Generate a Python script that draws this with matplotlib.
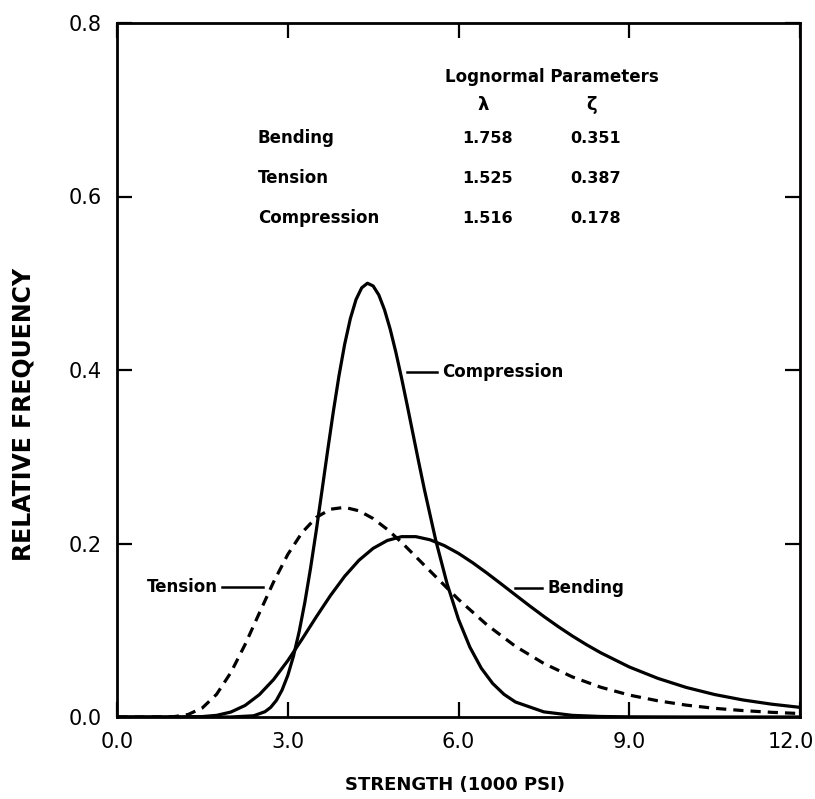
import matplotlib
matplotlib.use("Agg")
import matplotlib.pyplot as plt
from matplotlib.transforms import ScaledTranslation

plt.rcParams['font.family'] = ['DejaVu Sans']

# ---- data ----
bend_x = [0, 1.0, 1.5, 1.75, 2.0, 2.25, 2.5, 2.75, 3.0, 3.25, 3.5, 3.75, 4.0,
          4.25, 4.5, 4.75, 5.0, 5.25, 5.5, 5.75, 6.0, 6.25, 6.5, 6.75, 7.0,
          7.25, 7.5, 7.75, 8.0, 8.25, 8.5, 9.0, 9.5, 10.0, 10.5, 11.0, 11.5, 12.0]
bend_y = [0, 0.0000, 0.0005, 0.0019, 0.0057, 0.0133, 0.0257, 0.0431, 0.0649,
          0.0896, 0.1153, 0.1400, 0.1622, 0.1806, 0.1944, 0.2035, 0.2079,
          0.2079, 0.2043, 0.1976, 0.1886, 0.1778, 0.1659, 0.1534, 0.1407,
          0.1281, 0.1159, 0.1043, 0.0934, 0.0833, 0.0740, 0.0577, 0.0446,
          0.0341, 0.0259, 0.0196, 0.0148, 0.0111]

ten_x = [0, 0.5, 1.0, 1.25, 1.5, 1.75, 2.0, 2.25, 2.5, 2.75, 3.0, 3.25, 3.5,
         3.75, 4.0, 4.25, 4.5, 4.75, 5.0, 5.5, 6.0, 6.5, 7.0, 7.5, 8.0, 8.5,
         9.0, 9.5, 10.0, 10.5, 11.0, 11.5, 12.0]
ten_y = [0, 0, 0.0004, 0.0029, 0.0105, 0.0262, 0.0512, 0.0835, 0.1197, 0.1555,
         0.1873, 0.2125, 0.2300, 0.2395, 0.2417, 0.2377, 0.2288, 0.2162, 0.2013,
         0.1683, 0.1355, 0.1062, 0.0815, 0.0617, 0.0462, 0.0343, 0.0253, 0.0187,
         0.0137, 0.0100, 0.0074, 0.0054, 0.0040]

comp_x = [0, 2.0, 2.4, 2.6, 2.7, 2.8, 2.9, 3.0, 3.1, 3.2, 3.3, 3.4, 3.5, 3.6,
          3.7, 3.8, 3.9, 4.0, 4.1, 4.2, 4.3, 4.4, 4.5, 4.6, 4.7, 4.8, 4.9, 5.0,
          5.1, 5.2, 5.3, 5.4, 5.6, 5.8, 6.0, 6.2, 6.4, 6.6, 6.8, 7.0, 7.5, 8.0,
          8.5, 9.0, 10.0, 12.0]
comp_y = [0, 0.0000, 0.0014, 0.0061, 0.0111, 0.0191, 0.0311, 0.0478, 0.0701,
          0.0982, 0.1321, 0.1713, 0.2145, 0.2603, 0.3067, 0.3517, 0.3933,
          0.4297, 0.4593, 0.4813, 0.4948, 0.5000, 0.4969, 0.4865, 0.4694,
          0.4470, 0.4203, 0.3906, 0.3590, 0.3265, 0.2941, 0.2625, 0.2038,
          0.1535, 0.1125, 0.0805, 0.0563, 0.0387, 0.0261, 0.0173, 0.0059,
          0.0019, 0.0006, 0.0002, 0, 0]

x_ticks = [0.0, 3.0, 6.0, 9.0, 12.0]
y_ticks = [0.0, 0.2, 0.4, 0.6, 0.8]

table_rows = ["Bending", "Tension", "Compression"]
table_lambda = ["1.758", "1.525", "1.516"]
table_zeta = ["0.351", "0.387", "0.178"]

# ---- figure ----
W, H = 815, 799
fig = plt.figure(figsize=(W / 100, H / 100), dpi=100)
ax = fig.add_axes([117 / W, 1 - 717 / H, (800 - 117) / W, (717 - 23) / H])

lw = 2.3
ax.plot(bend_x, bend_y, color="black", lw=lw, solid_joinstyle="round")
ax.plot(comp_x, comp_y, color="black", lw=lw, solid_joinstyle="round")
ax.plot(ten_x, ten_y, color="black", lw=lw, linestyle=(0, (3.2, 2.2)))

ax.set_xlim(0, 12)
ax.set_ylim(0, 0.8)
ax.set_xticks(x_ticks)
ax.set_yticks(y_ticks)
ax.set_xticklabels([f"{v:.1f}" for v in x_ticks])
ax.set_yticklabels([f"{v:.1f}" for v in y_ticks])
ax.tick_params(direction="in", length=11, width=1.6, top=True, right=True,
               labelsize=15, pad=11, color="black")
for s in ax.spines.values():
    s.set_linewidth(2.0)

# keep the last x tick label inside the figure
last = ax.get_xticklabels()[-1]
last.set_transform(last.get_transform() + ScaledTranslation(-9 / 100, 0, fig.dpi_scale_trans))

fig.text(455 / W, 1 - 785 / H, "STRENGTH (1000 PSI)", ha="center", va="center",
         fontsize=13, fontweight="bold")
fig.text(24 / W, 1 - 414 / H, "RELATIVE FREQUENCY", ha="center", va="center",
         rotation=90, fontsize=17, fontweight="bold")

# curve labels with leader lines
lab_kw = dict(fontsize=12, fontweight="bold", va="center")
ax.plot([5.095, 5.62], [0.398, 0.398], color="black", lw=1.8)
ax.text(5.71, 0.398, "Compression", ha="left", **lab_kw)
ax.plot([1.845, 2.565], [0.150, 0.150], color="black", lw=1.8)
ax.text(1.774, 0.150, "Tension", ha="right", **lab_kw)
ax.plot([6.99, 7.47], [0.149, 0.149], color="black", lw=1.8)
ax.text(7.555, 0.149, "Bending", ha="left", **lab_kw)

# parameter table
ax.text(5.76, 0.7377, "Lognormal Parameters", ha="left", **lab_kw)
ax.text(6.43, 0.7055, "λ", ha="center", fontsize=13, fontweight="bold", va="center")
ax.text(8.345, 0.7055, "ζ", ha="center", fontsize=13, fontweight="bold", va="center")
row_y = [0.6674, 0.6213, 0.5752]
for name, lam, zet, yy in zip(table_rows, table_lambda, table_zeta, row_y):
    ax.text(2.477, yy, name, ha="left", **lab_kw)
    ax.text(6.06, yy, lam, ha="left", fontsize=11.5, fontweight="bold", va="center")
    ax.text(7.96, yy, zet, ha="left", fontsize=11.5, fontweight="bold", va="center")

fig.savefig("out.png", dpi=100)
